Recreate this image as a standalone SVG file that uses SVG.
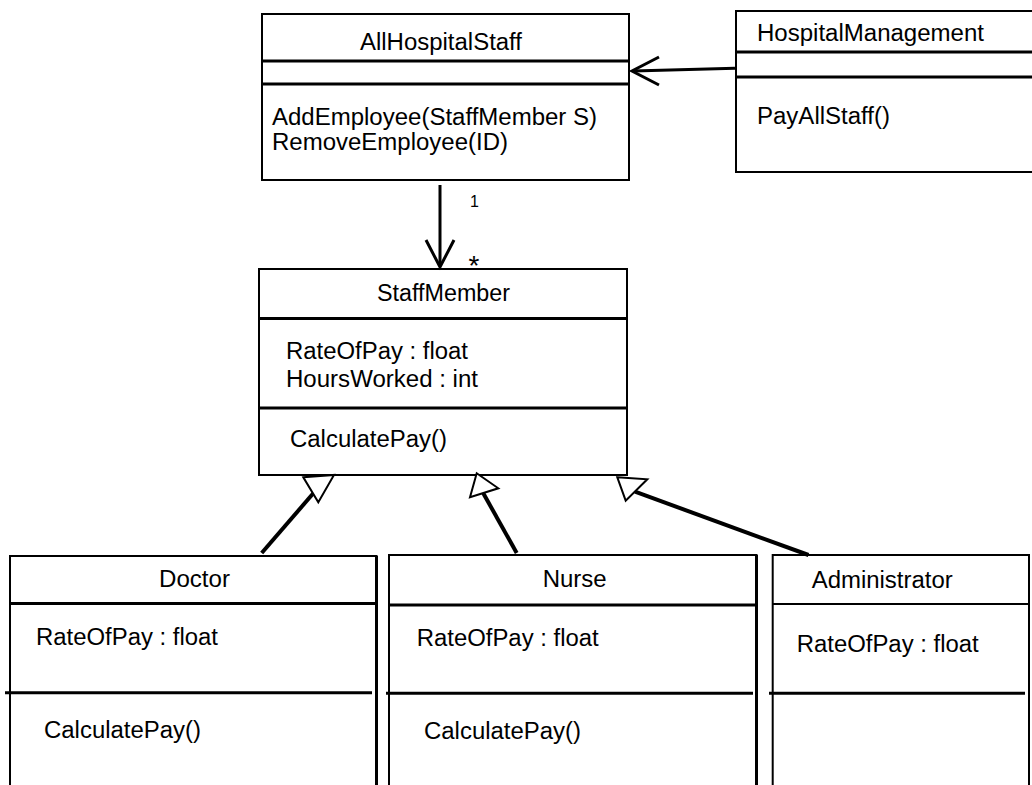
<svg xmlns="http://www.w3.org/2000/svg" width="1032" height="785" viewBox="0 0 1032 785">
<style>
.box{fill:#fff;stroke:#000;stroke-width:2}
.div{stroke:#000;stroke-width:3;fill:none}
.t{font-family:"Liberation Sans",Arial,sans-serif;font-size:23.5px;fill:#000}
.m{font-family:"Liberation Sans",Arial,sans-serif;font-size:16px;fill:#000}
.con{stroke:#000;stroke-width:3;fill:none;stroke-linecap:butt}
.gen{stroke:#000;stroke-width:4;fill:none}
.tri{fill:#fff;stroke:#000;stroke-width:2;stroke-linejoin:miter}
</style>
<rect width="1032" height="785" fill="#fff"/>

<g id="AllHospitalStaff">
<rect class="box" x="262" y="14" width="367" height="166"/>
<line class="div" x1="262" y1="61" x2="629" y2="61"/>
<line class="div" x1="262" y1="84" x2="629" y2="84"/>
<text class="t" x="360" y="50" textLength="162" lengthAdjust="spacingAndGlyphs">AllHospitalStaff</text>
<text class="t" x="272" y="125" textLength="325" lengthAdjust="spacingAndGlyphs">AddEmployee(StaffMember S)</text>
<text class="t" x="272" y="150" textLength="236" lengthAdjust="spacingAndGlyphs">RemoveEmployee(ID)</text>
</g>

<g id="HospitalManagement">
<rect class="box" x="736" y="11" width="300" height="161"/>
<line class="div" x1="736" y1="52" x2="1032" y2="52"/>
<line class="div" x1="736" y1="77" x2="1032" y2="77"/>
<text class="t" x="757" y="41" textLength="227" lengthAdjust="spacingAndGlyphs">HospitalManagement</text>
<text class="t" x="757" y="124" textLength="133" lengthAdjust="spacingAndGlyphs">PayAllStaff()</text>
</g>

<g id="StaffMember">
<rect class="box" x="259" y="269" width="368" height="206"/>
<line class="div" x1="259" y1="318.5" x2="627" y2="318.5"/>
<line class="div" x1="259" y1="408" x2="627" y2="408"/>
<text class="t" x="377" y="300.5" textLength="133" lengthAdjust="spacingAndGlyphs">StaffMember</text>
<text class="t" x="286" y="359" textLength="182" lengthAdjust="spacingAndGlyphs">RateOfPay : float</text>
<text class="t" x="286" y="386.5" textLength="192" lengthAdjust="spacingAndGlyphs">HoursWorked : int</text>
<text class="t" x="290" y="447" textLength="157" lengthAdjust="spacingAndGlyphs">CalculatePay()</text>
</g>

<g id="Doctor">
<rect class="box" x="10" y="556" width="366.5" height="240"/>
<line class="div" x1="376.5" y1="556" x2="376.5" y2="785"/>
<line class="div" x1="10" y1="603.5" x2="376" y2="603.5"/>
<line class="div" x1="5" y1="692.7" x2="372" y2="692.7"/>
<text class="t" x="159" y="587" textLength="71" lengthAdjust="spacingAndGlyphs">Doctor</text>
<text class="t" x="36" y="645" textLength="182" lengthAdjust="spacingAndGlyphs">RateOfPay : float</text>
<text class="t" x="44" y="737.5" textLength="157" lengthAdjust="spacingAndGlyphs">CalculatePay()</text>
</g>

<g id="Nurse">
<rect class="box" x="389" y="555" width="367.5" height="240"/>
<line class="div" x1="756.5" y1="555" x2="756.5" y2="785"/>
<line class="div" x1="389" y1="605" x2="756" y2="605"/>
<line class="div" x1="386" y1="693.3" x2="753" y2="693.3"/>
<text class="t" x="542.7" y="587" textLength="64" lengthAdjust="spacingAndGlyphs">Nurse</text>
<text class="t" x="416.7" y="646" textLength="182" lengthAdjust="spacingAndGlyphs">RateOfPay : float</text>
<text class="t" x="424" y="739" textLength="157" lengthAdjust="spacingAndGlyphs">CalculatePay()</text>
</g>

<g id="Administrator">
<rect class="box" x="772.7" y="555" width="256.3" height="240"/>
<line class="div" x1="772.7" y1="604" x2="1029" y2="604" style="stroke-width:2"/>
<line class="div" x1="769" y1="693.3" x2="1025" y2="693.3"/>
<text class="t" x="811.7" y="588.3" textLength="141" lengthAdjust="spacingAndGlyphs">Administrator</text>
<text class="t" x="796.7" y="651.7" textLength="182" lengthAdjust="spacingAndGlyphs">RateOfPay : float</text>
</g>

<g id="connectors">
<line class="con" x1="735" y1="68.3" x2="633" y2="71"/>
<polyline class="con" points="659,57 632,71 659,85"/>
<line class="con" x1="440" y1="185" x2="440" y2="265"/>
<polyline class="con" points="426,240 440,267 454,240"/>
<text class="m" x="470" y="206.5">1</text>
<text class="m" x="468.5" y="275" style="font-size:28px">*</text>
<line class="gen" x1="261.7" y1="553" x2="313.3" y2="493.3"/>
<polygon class="tri" points="303.3,477.3 334,475 318.3,502.3"/>
<line class="gen" x1="516.7" y1="553" x2="483.3" y2="493.3"/>
<polygon class="tri" points="476.7,473.3 498.3,488.3 470,497.3"/>
<line class="gen" x1="808.5" y1="555" x2="635" y2="491.7"/>
<polygon class="tri" points="617.3,477.3 647.3,479.3 625.7,500.7"/>
</g>
</svg>
